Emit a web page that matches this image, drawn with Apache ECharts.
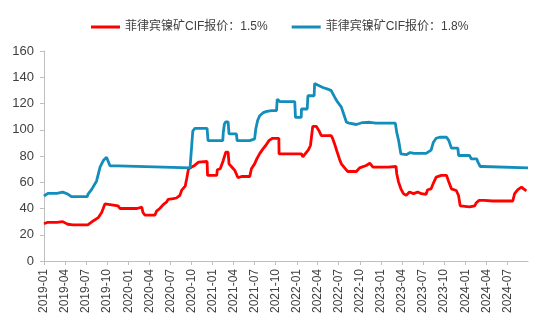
<!DOCTYPE html>
<html>
<head>
<meta charset="utf-8">
<script src="https://cdn.jsdelivr.net/npm/echarts@6/dist/echarts.min.js"></script>
<style>html,body{margin:0;padding:0;background:#fff}#c{width:545px;height:327px}</style>
</head>
<body>
<div id="c"></div>
<script>
var seriesNames = ['菲律宾镍矿CIF报价：1.5%', '菲律宾镍矿CIF报价：1.8%'];
var tickLabels = ['2019-01','2019-04','2019-07','2019-10','2020-01','2020-04','2020-07','2020-10',
  '2021-01','2021-04','2021-07','2021-10','2022-01','2022-04','2022-07','2022-10',
  '2023-01','2023-04','2023-07','2023-10','2024-01','2024-04','2024-07'];

var redDates = ['2019-01-01','2019-01-18','2019-02-26','2019-03-02','2019-03-23','2019-04-14','2019-05-06','2019-07-10','2019-07-18','2019-08-02','2019-08-24','2019-09-08','2019-09-22','2019-10-14','2019-10-18','2019-11-18','2019-11-26','2020-02-08','2020-02-13','2020-02-29','2020-03-05','2020-03-13','2020-04-26','2020-05-03','2020-05-17','2020-06-01','2020-06-16','2020-06-22','2020-07-14','2020-07-28','2020-08-12','2020-08-20','2020-09-04','2020-09-11','2020-09-18','2020-10-02','2020-10-16','2020-11-01','2020-12-08','2020-12-10','2021-01-19','2021-01-21','2021-02-03','2021-02-16','2021-02-27','2021-03-09','2021-03-13','2021-03-23','2021-04-07','2021-04-21','2021-05-06','2021-06-11','2021-06-18','2021-07-02','2021-07-12','2021-07-24','2021-08-08','2021-08-19','2021-09-03','2021-09-18','2021-10-15','2021-10-16','2022-01-21','2022-01-27','2022-02-06','2022-02-20','2022-03-01','2022-03-11','2022-03-26','2022-04-07','2022-04-17','2022-05-30','2022-06-06','2022-06-14','2022-06-23','2022-07-05','2022-07-13','2022-07-27','2022-08-09','2022-09-16','2022-09-30','2022-10-29','2022-11-13','2022-11-27','2023-02-01','2023-02-07','2023-03-07','2023-03-10','2023-03-18','2023-03-28','2023-04-08','2023-04-20','2023-05-04','2023-05-22','2023-06-09','2023-06-25','2023-07-15','2023-07-22','2023-08-06','2023-08-16','2023-08-28','2023-09-19','2023-10-12','2023-10-22','2023-11-02','2023-11-23','2023-12-03','2023-12-10','2023-12-13','2024-01-20','2024-01-27','2024-02-11','2024-02-17','2024-03-01','2024-03-24','2024-04-01','2024-04-29','2024-07-25','2024-08-02','2024-08-16','2024-09-01','2024-09-10','2024-09-22'];
var redValues = [28.5,29.5,29.5,30,30,28,27.5,27.5,28,30.5,33,37,43.5,43,42,42,40,40,41,41,37,35,35,38,40,43,45,47,47.5,48,50,54,57,63,70,71.5,73,75.3,75.8,65.2,65.2,69.5,70.3,76.6,82.9,82.9,74,72,69,63.4,64.4,64.4,70.3,74,78,81.8,85.6,88,91.9,93.5,93.5,81.6,81.6,79.3,81.6,84.7,88,102.6,102.6,99.3,95.5,95.5,93,89,84,77.6,74,71,68.2,68.2,71,72.8,74.5,71.5,71.5,72,72,66.5,60.1,55,51.3,50,52.6,51.3,52.6,51.3,50.8,54.3,55,59.4,63.9,65.2,65.2,60.1,55,53.7,49.9,42,41.2,41.2,42,42,44.2,46.2,46.2,45,45.7,45.7,51.3,54.3,56.3,55,53.4];

var blueDates = ['2019-01-01','2019-01-18','2019-02-26','2019-03-02','2019-03-23','2019-04-14','2019-04-30','2019-07-07','2019-07-11','2019-07-26','2019-08-17','2019-09-01','2019-09-15','2019-09-29','2019-10-14','2019-11-18','2019-11-22','2020-09-25','2020-10-07','2020-10-16','2020-12-08','2020-12-12','2021-02-14','2021-02-16','2021-02-21','2021-02-27','2021-03-09','2021-03-13','2021-04-14','2021-04-17','2021-06-11','2021-06-13','2021-07-02','2021-07-07','2021-07-15','2021-07-24','2021-08-08','2021-08-24','2021-09-14','2021-10-05','2021-10-08','2021-10-19','2021-12-23','2021-12-26','2022-01-20','2022-01-21','2022-02-15','2022-02-18','2022-03-17','2022-03-19','2022-04-10','2022-04-24','2022-05-15','2022-05-30','2022-06-14','2022-06-27','2022-07-13','2022-07-23','2022-08-04','2022-08-16','2022-09-16','2022-10-13','2022-11-13','2022-12-09','2023-03-04','2023-03-10','2023-03-18','2023-03-28','2023-04-20','2023-05-07','2023-05-25','2023-07-15','2023-07-22','2023-08-06','2023-08-16','2023-08-28','2023-09-12','2023-10-12','2023-10-22','2023-11-02','2023-11-30','2023-12-03','2024-01-20','2024-01-27','2024-02-20','2024-02-25','2024-03-01','2024-03-06','2024-03-16','2024-03-24','2024-09-29'];
var blueValues = [49.5,51.5,51.5,52.5,52.5,51,49,49,51,54.4,61,71.5,76.5,79,72.5,72.5,71,71,99,101,101,91.7,91.7,97.7,104.4,106,106,96.8,96.8,91.7,91.7,93,93,100.6,107,110.7,113,114,114.6,114.6,123.3,121.5,121.5,109.4,109.4,115.8,115.8,125.9,125.9,135.2,133.4,132.2,131,129.8,124.8,121,117.2,112,105.7,105,104,105.5,105.7,105,105,98,92,81.6,81,82.6,82,82,83.5,84.5,90.5,93.5,94.3,94.3,91.7,86,86,80.4,80.4,77.8,77.8,75.3,75.3,72,72,71,71];

function ts(s) { return Date.parse(s + 'T00:00:00Z'); }
function zip(d, v) { return d.map(function (x, i) { return [ts(x), v[i]]; }); }
function pad(n) { return (n < 10 ? '0' : '') + n; }

var chart = echarts.init(document.getElementById('c'), null, { renderer: 'canvas' });
var ff = "'Liberation Sans', 'Noto Sans CJK SC', sans-serif";
var tickVals = tickLabels.map(function (s) { return ts(s + '-01'); });
chart.setOption({
  animation: false,
  backgroundColor: '#ffffff',
  textStyle: { fontFamily: ff },
  legend: {
    top: 16, left: 86, icon: 'rect', itemWidth: 29, itemHeight: 3, itemGap: 24,
    textStyle: { fontSize: 12, color: '#404040', fontFamily: ff },
    data: seriesNames
  },
  grid: { left: 44, right: 17, top: 51, bottom: 66 },
  xAxis: {
    type: 'value', min: ts('2019-01-01'), max: ts('2024-09-29'),
    splitLine: { show: false },
    axisLine: { lineStyle: { color: '#BFBFBF', width: 1 } },
    axisTick: { show: true, length: 4, customValues: tickVals, lineStyle: { color: '#BFBFBF' } },
    axisLabel: {
      customValues: tickVals, rotate: 90, fontSize: 12, color: '#404040', margin: 8, fontFamily: ff,
      showMinLabel: true, showMaxLabel: true,
      formatter: function (val) { var d = new Date(val); return d.getUTCFullYear() + '-' + pad(d.getUTCMonth() + 1); }
    }
  },
  yAxis: {
    type: 'value', min: 0, max: 160, interval: 20,
    splitLine: { show: false },
    axisLine: { show: true, lineStyle: { color: '#BFBFBF', width: 1 } },
    axisTick: { show: true, length: 4, lineStyle: { color: '#BFBFBF' } },
    axisLabel: { fontSize: 13, color: '#404040', margin: 10, fontFamily: ff }
  },
  series: [
    { name: seriesNames[0], type: 'line', data: zip(redDates, redValues), showSymbol: false, symbol: 'none',
      lineStyle: { color: '#FF0000', width: 2.8 }, itemStyle: { color: '#FF0000' } },
    { name: seriesNames[1], type: 'line', data: zip(blueDates, blueValues), showSymbol: false, symbol: 'none',
      lineStyle: { color: '#138DBA', width: 2.8 }, itemStyle: { color: '#138DBA' } }
  ]
});
</script>
</body>
</html>
